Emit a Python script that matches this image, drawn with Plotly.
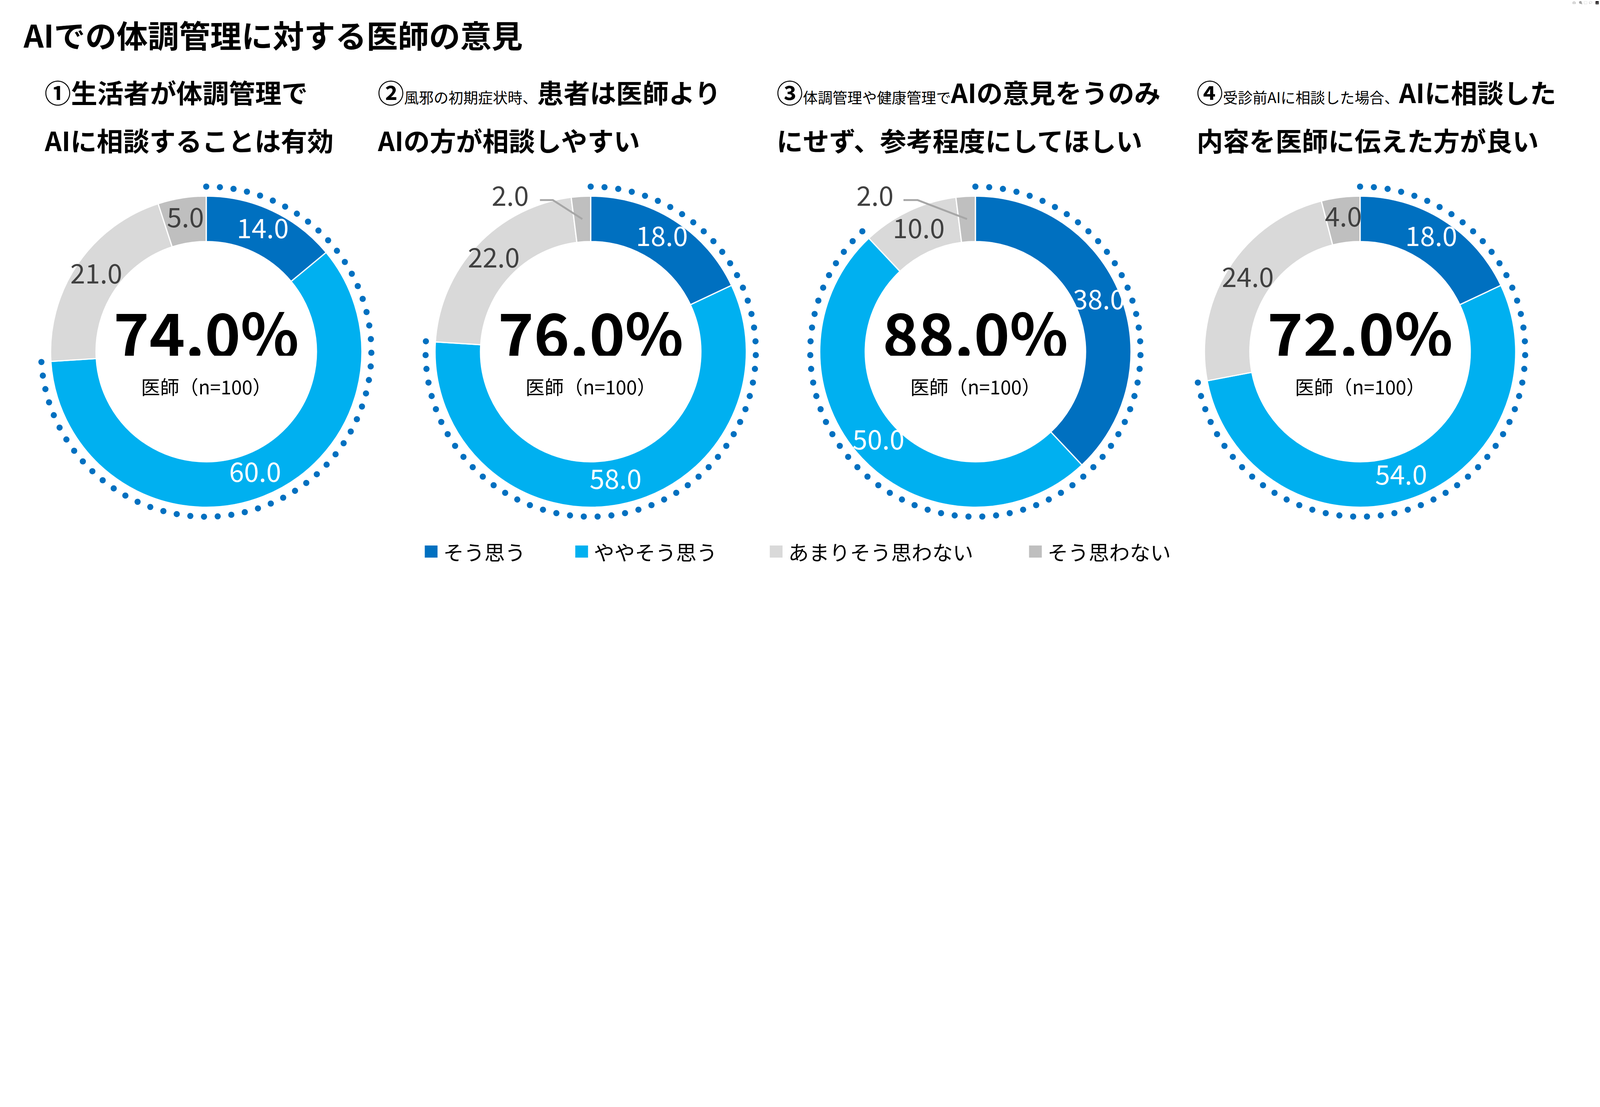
import numpy as np
import plotly.graph_objects as go

W, H = 7782, 2835
FONT = "Noto Sans CJK JP"

# data
categories = ["そう思う", "ややそう思う", "あまりそう思わない", "そう思わない"]
q1 = [14.0, 60.0, 21.0, 5.0]
q2 = [18.0, 58.0, 22.0, 2.0]
q3 = [38.0, 50.0, 10.0, 2.0]
q4 = [18.0, 54.0, 24.0, 4.0]
questions = [q1, q2, q3, q4]
sample_label = "医師（n=100）"
title = "AIでの体調管理に対する医師の意見"
subtitles = [
    ("<b>①生活者が体調管理で</b>", "<b>AIに相談することは有効</b>"),
    ("<b>②</b><span style='font-size:72px'>風邪の初期症状時、</span><b>患者は医師より</b>",
     "<b>AIの方が相談しやすい</b>"),
    ("<b>③</b><span style='font-size:72px'>体調管理や健康管理で</span><b>AIの意見をうのみ</b>",
     "<b>にせず、参考程度にしてほしい</b>"),
    ("<b>④</b><span style='font-size:72px'>受診前AIに相談した場合、</span><b>AIに相談した</b>",
     "<b>内容を医師に伝えた方が良い</b>"),
]

colors = ["#0070C0", "#00B0F0", "#D9D9D9", "#BFBFBF"]
label_colors = ["white", "white", "#404040", "#404040"]

# layout (pixels)
CX = [1003, 2873, 4744, 6615]
CY = 1711
R_PX = 757          # outer ring radius in px (= 1.0 radial unit)
RMAX = 1.25
HALF = R_PX * RMAX
HOLE = 0.708
R_LABEL = (1 + HOLE) / 2
R_DOTS = 1.061
DOT_STEP = 4.8
SUB_X = [215, 1835, 3775, 5818]
LEG_X = [2066, 2798, 3744, 5005]
# hand placed outside labels (elbow, line end, text) relative to centre, in radius units
OUTSIDE = {
    1: [(-0.243, -0.974), (-0.326, -0.974), (-0.517, -0.981)],
    2: [(-0.371, -0.974), (-0.462, -0.974), (-0.645, -0.981)],
}


def px(x):
    return x / W


def py(y):
    return 1 - y / H


def to_polar(pt):
    x, y = pt
    return float(np.hypot(x, y)), float(np.degrees(np.arctan2(x, -y)) % 360)


fig = go.Figure()
layout_polars = {}

for i, q in enumerate(questions):
    sp = "polar" if i == 0 else f"polar{i + 1}"
    vals = np.array(q)
    start = np.cumsum(vals) - vals
    mid = (start + vals / 2) * 3.6

    fig.add_trace(go.Barpolar(
        r=[1 - HOLE] * len(vals), base=HOLE, theta=mid, width=vals * 3.6,
        marker=dict(color=colors, line=dict(color="white", width=6)),
        subplot=sp, hoverinfo="skip",
    ))

    # dotted arc over the two "agree" answers
    top2 = vals[0] + vals[1]
    arc = top2 * 3.6
    n = int(round(arc / DOT_STEP)) + 1
    fig.add_trace(go.Scatterpolar(
        r=[R_DOTS] * n, theta=np.linspace(0, arc, n), mode="markers",
        marker=dict(color="#0070C0", size=30), subplot=sp, hoverinfo="skip",
        cliponaxis=False,
    ))

    inside = vals >= 3
    fig.add_trace(go.Scatterpolar(
        r=[R_LABEL] * int(inside.sum()), theta=mid[inside], mode="text",
        text=[f"{v:.1f}" for v in vals[inside]],
        textfont=dict(family=FONT, size=130,
                      color=[c for c, k in zip(label_colors, inside) if k]),
        subplot=sp, hoverinfo="skip", cliponaxis=False,
    ))

    for j in np.where(~inside)[0]:
        elbow, end, txt = [to_polar(p) for p in OUTSIDE[i]]
        fig.add_trace(go.Scatterpolar(
            r=[R_LABEL, elbow[0], end[0]], theta=[mid[j], elbow[1], end[1]],
            mode="lines", line=dict(color="#A6A6A6", width=9),
            subplot=sp, hoverinfo="skip", cliponaxis=False,
        ))
        fig.add_trace(go.Scatterpolar(
            r=[txt[0]], theta=[txt[1]], mode="text", text=[f"{vals[j]:.1f}"],
            textfont=dict(family=FONT, size=130, color=label_colors[j]),
            subplot=sp, hoverinfo="skip", cliponaxis=False,
        ))

    layout_polars[sp] = dict(
        domain=dict(x=[px(CX[i] - HALF), px(CX[i] + HALF)],
                    y=[py(CY + HALF), py(CY - HALF)]),
        bgcolor="rgba(0,0,0,0)",
        radialaxis=dict(visible=False, range=[0, RMAX]),
        angularaxis=dict(visible=False, rotation=90, direction="clockwise"),
    )

annotations = [dict(
    x=px(112), y=py(166), xref="paper", yref="paper", xanchor="left", yanchor="middle",
    text=f"<b>{title}</b>", showarrow=False, font=dict(family=FONT, size=152, color="black"),
)]

for i, q in enumerate(questions):
    line1, line2 = subtitles[i]
    for txt, yy in ((line1, 446), (line2, 680)):
        annotations.append(dict(
            x=px(SUB_X[i]), y=py(yy), xref="paper", yref="paper",
            xanchor="left", yanchor="middle", text=txt, showarrow=False,
            font=dict(family=FONT, size=128, color="black"),
        ))
    top2 = q[0] + q[1]
    annotations.append(dict(
        x=px(CX[i]), y=py(CY - 100), xref="paper", yref="paper",
        xanchor="center", yanchor="middle", text=f"<b>{top2:.1f}%</b>", showarrow=False,
        height=240, font=dict(family=FONT, size=295, color="black"),
    ))
    annotations.append(dict(
        x=px(CX[i]), y=py(CY + 168), xref="paper", yref="paper",
        xanchor="center", yanchor="middle", text=sample_label, showarrow=False,
        height=100, font=dict(family=FONT, size=93, color="black"),
    ))

shapes = []
for k, name in enumerate(categories):
    shapes.append(dict(
        type="rect", xref="paper", yref="paper",
        x0=px(LEG_X[k]), x1=px(LEG_X[k] + 62), y0=py(2713), y1=py(2654),
        fillcolor=colors[k], line=dict(width=0),
    ))
    annotations.append(dict(
        x=px(LEG_X[k] + 88), y=py(2683), xref="paper", yref="paper",
        xanchor="left", yanchor="middle", text=name, showarrow=False,
        font=dict(family=FONT, size=100, color="black"),
    ))

fig.update_layout(
    width=W, height=H, margin=dict(l=0, r=0, t=0, b=0),
    paper_bgcolor="white", plot_bgcolor="white", showlegend=False,
    annotations=annotations, shapes=shapes, **layout_polars,
)

# the browser window may be narrower than the figure: shrink the page to fit
fit = ("document.body.style.margin = '0';"
       "var gd = document.getElementById('{plot_id}');"
       "var s = Math.min(1, window.innerWidth / %d);"
       "gd.style.transformOrigin = '0 0';"
       "gd.style.transform = 'scale(' + s + ')';" % W)
fig.write_html("out.html", post_script=fit)
